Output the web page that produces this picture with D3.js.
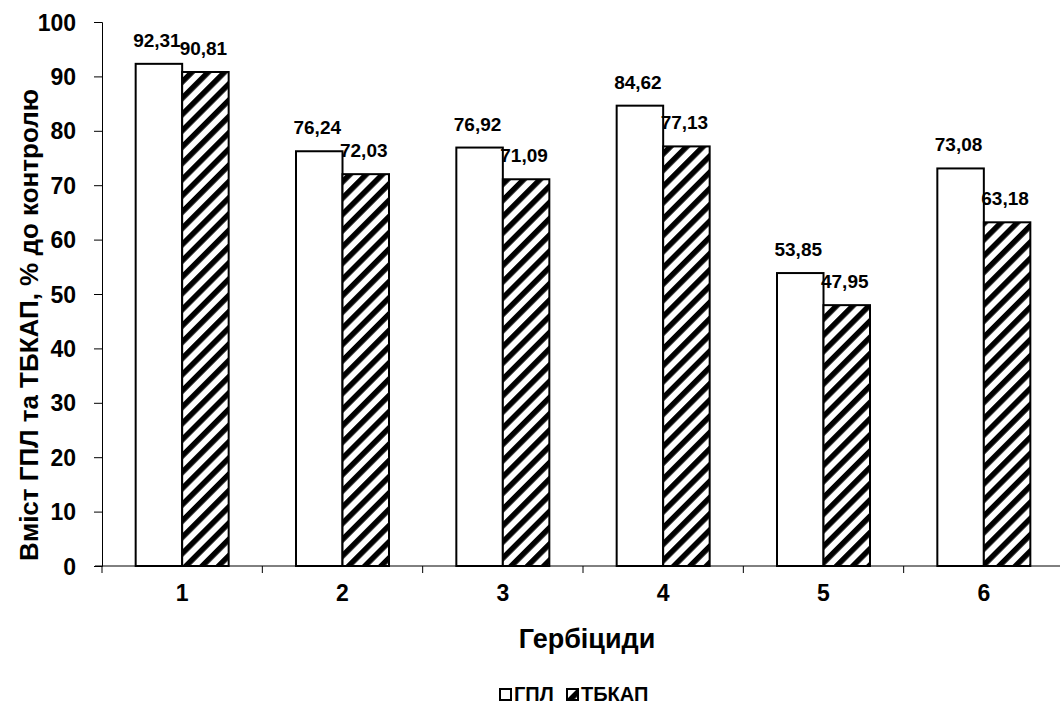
<!DOCTYPE html>
<html><head><meta charset="utf-8">
<script src="https://cdn.jsdelivr.net/npm/d3@7"></script>
<style>body{margin:0;background:#fff}svg text{font-family:"Liberation Sans",Arial,sans-serif;font-weight:bold;fill:#000}</style>
</head><body><svg id="c" width="1060" height="713"></svg>
<script>
const categories = ["1","2","3","4","5","6"];
const seriesNames = ["ГПЛ","ТБКАП"];
const gpl = [92.31,76.24,76.92,84.62,53.85,73.08];
const tbkap = [90.81,72.03,71.09,77.13,47.95,63.18];
const yTicks = [0,10,20,30,40,50,60,70,80,90,100];
const fmt = v => v.toFixed(2).replace(".", ",");

const svg = d3.select("#c");
const defs = svg.append("defs");
const pat = defs.append("pattern").attr("id","hatch").attr("patternUnits","userSpaceOnUse")
  .attr("width",11.5).attr("height",11.5).attr("patternTransform","rotate(45)");
pat.append("rect").attr("width",11.5).attr("height",11.5).attr("fill","#fff");
pat.append("rect").attr("x",0).attr("y",0).attr("width",5.5).attr("height",11.5).attr("fill","#000");

const x0 = 102, x1 = 1064, yTop = 22, yBot = 566;
const x = d3.scaleBand().domain(categories).range([x0,x1]).paddingInner(0).paddingOuter(0);
const y = d3.scaleLinear().domain([0,100]).range([yBot,yTop]);
const bw = 46.5;

const g = svg.append("g");
categories.forEach((c,i)=>{
  const cx = x(c)+x.bandwidth()/2;
  [[gpl[i],"#fff",-bw],[tbkap[i],"url(#hatch)",0]].forEach(([v,f,off])=>{
    g.append("rect").attr("x",cx+off).attr("y",y(v)).attr("width",bw).attr("height",yBot-y(v))
      .attr("fill",f).attr("stroke","#000").attr("stroke-width",2);
    g.append("text").attr("x",cx+off+bw/2 - 2).attr("y",y(v)-17).attr("text-anchor","middle")
      .attr("font-size",19).text(fmt(v));
  });
});

// y axis
const ya = svg.append("g").attr("transform",`translate(${x0},0)`)
  .call(d3.axisLeft(y).tickValues(yTicks).tickSize(8).tickPadding(18));
ya.select(".domain").attr("stroke","#000");
ya.selectAll("line").attr("stroke","#000");
ya.selectAll("text").attr("font-size",23).attr("font-family","Liberation Sans, Arial").attr("font-weight","bold").attr("dy","0.35em");

// x axis
svg.append("line").attr("x1",95).attr("x2",x1).attr("y1",yBot).attr("y2",yBot).attr("stroke","#000").attr("stroke-width",1);
const bounds = categories.map(c=>x(c)).concat([x1]);
svg.selectAll(".xt").data(bounds).enter().append("line")
  .attr("x1",d=>d).attr("x2",d=>d).attr("y1",yBot).attr("y2",yBot+7).attr("stroke","#000");
svg.selectAll(".xl").data(categories).enter().append("text")
  .attr("x",d=>x(d)+x.bandwidth()/2).attr("y",601).attr("text-anchor","middle").attr("font-size",23).text(d=>d);

svg.append("text").attr("x",587).attr("y",648).attr("text-anchor","middle").attr("font-size",27).text("Гербіциди");
svg.append("text").attr("transform","translate(38,325) rotate(-90)").attr("text-anchor","middle").attr("font-size",26)
  .text("Вміст ГПЛ та ТБКАП, % до контролю");

// legend
const lg = svg.append("g").attr("transform","translate(500,701)");
lg.append("rect").attr("x",0).attr("y",-12).attr("width",11).attr("height",11).attr("fill","#fff").attr("stroke","#000").attr("stroke-width",2);
lg.append("text").attr("x",14).attr("y",0).attr("font-size",20).text(seriesNames[0]);
lg.append("rect").attr("x",67).attr("y",-12).attr("width",11).attr("height",11).attr("fill","url(#hatch)").attr("stroke","#000").attr("stroke-width",2);
lg.append("text").attr("x",81).attr("y",0).attr("font-size",20).text(seriesNames[1]);
</script></body></html>
